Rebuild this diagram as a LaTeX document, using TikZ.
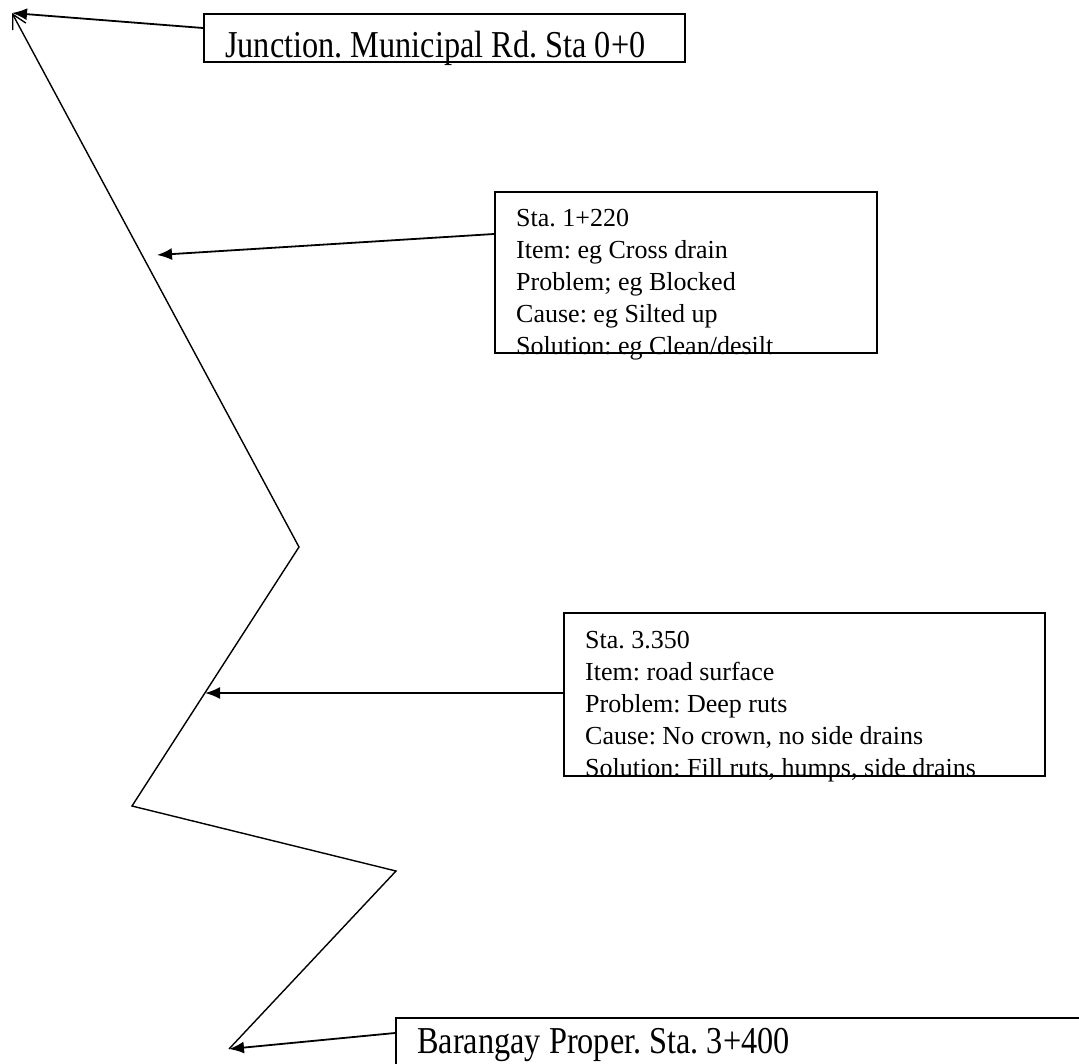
\documentclass[tikz,border=0pt]{standalone}
\usepackage{fontspec}
\usepackage{graphicx}
\setmainfont{Liberation Serif}
\frenchspacing
\usetikzlibrary{arrows.meta, positioning}

\tikzset{
stabox/.style={draw, line width=2.2pt, anchor=north west, inner sep=0pt},
stainfo/.style={anchor=north west, align=left, inner sep=0pt, font=\fontsize{26}{32}\selectfont},
stahead/.style={anchor=base west, inner sep=0pt, font=\fontsize{38}{40}\selectfont},
pointer/.style={-{Latex[length=15pt,width=12pt]}, line width=1.8pt},
road/.style={line width=1.4pt}
}

\begin{document}
\begin{tikzpicture}[x=1pt, y=-1pt]
\useasboundingbox (0,0) rectangle (1079,1063);
% road line
\coordinate (s0) at (12,13);
\coordinate (s1) at (299,547);
\coordinate (s2) at (132,806);
\coordinate (s3) at (396,871);
\coordinate (s4) at (229,1049);
\coordinate (p1) at (157,255);
\coordinate (p2) at (205,693);
\draw[road, {Straight Barb[length=14pt,width=15pt]}-] (s0) -- (s1) -- (s2) -- (s3) -- (s4);

% boxes
\node[stabox, minimum width=481pt, minimum height=48pt] (junction) at (203,13) {};
\node[stahead] (junctiontxt) at (225,57) {\scalebox{0.85}[1]{Junction. Municipal Rd. Sta 0+0}};
\node[stabox, minimum width=382pt, minimum height=161pt] (sta1) at (494,191) {};
\node[stainfo] (sta1txt) at (516,209) {Sta. 1+220\\Item: eg Cross drain\\Problem; eg Blocked\\Cause: eg Silted up\\Solution: eg Clean/desilt};
\node[stabox, minimum width=481pt, minimum height=163pt] (sta3) at (563,612) {};
\node[stainfo] (sta3txt) at (585,631) {Sta. 3.350\\Item: road surface\\Problem: Deep ruts\\Cause: No crown, no side drains\\Solution: Fill ruts, humps, side drains};
\node[stabox, minimum width=720pt, minimum height=80pt] (barangay) at (395,1017) {};
\node[stahead] (barangaytxt) at (417,1053) {\scalebox{0.85}[1]{Barangay Proper. Sta. 3+400}};

% pointers
\coordinate (j0) at ([yshift=-15pt]junction.north west);
\coordinate (j1) at ([yshift=-43pt]sta1.north west);
\coordinate (j2) at ([yshift=-81pt]sta3.north west);
\coordinate (j3) at ([yshift=-16pt]barangay.north west);
\draw[pointer] (j0) -- (s0);
\draw[pointer] (j1) -- (p1);
\draw[pointer] (j2) -- (p2);
\draw[pointer] (j3) -- (s4);
\end{tikzpicture}
\end{document}
